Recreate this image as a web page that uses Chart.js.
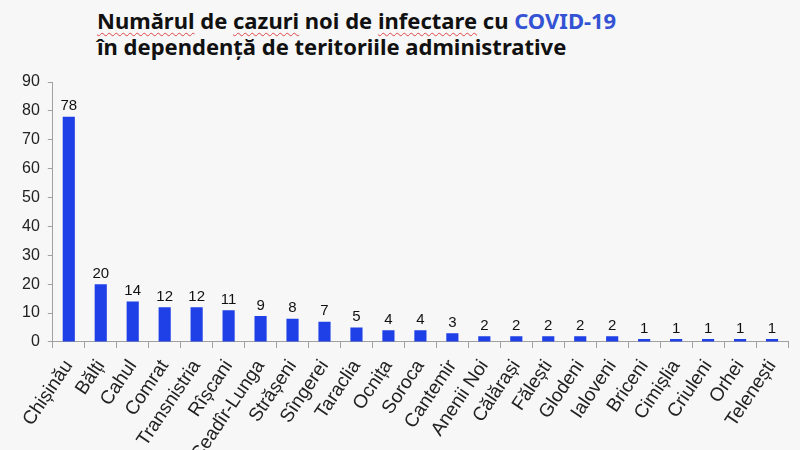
<!DOCTYPE html>
<html>
<head>
<meta charset="utf-8">
<script src="https://cdn.jsdelivr.net/npm/chart.js@4/dist/chart.umd.min.js"></script>
<style>
  html, body { margin: 0; padding: 0; background: #f7f7f7; overflow: hidden; width: 800px; height: 450px; }
  #title {
    position: absolute; left: 97px; top: 7px;
    font-family: "Noto Sans", "Open Sans", sans-serif; font-weight: bold;
    font-size: 22px; line-height: 26px; color: #111; white-space: nowrap;
  }
  #title .sp { text-decoration: underline wavy #d44; text-decoration-thickness: 1px; text-underline-offset: 3px; }
  #title .blue { color: #3452d4; }
  #wrap { position: absolute; left: 0; top: 0; width: 800px; height: 500px; }
</style>
</head>
<body>
<div id="title">
  <span class="sp">Numărul</span> de <span class="sp">cazuri</span> noi de <span class="sp">infectare</span> cu <span class="blue">COVID-19</span><br>
  în dependență de teritoriile administrative
</div>
<div id="wrap"><canvas id="chart" width="800" height="500"></canvas></div>
<script>
// Data
const territories = ["Chișinău", "Bălți", "Cahul", "Comrat", "Transnistria", "Rîșcani", "Ceadîr-Lunga",
  "Strășeni", "Sîngerei", "Taraclia", "Ocnița", "Soroca", "Cantemir", "Anenii Noi", "Călărași",
  "Fălești", "Glodeni", "Ialoveni", "Briceni", "Cimișlia", "Criuleni", "Orhei", "Telenești"];
const newCases = [78, 20, 14, 12, 12, 11, 9, 8, 7, 5, 4, 4, 3, 2, 2, 2, 2, 2, 1, 1, 1, 1, 1];
const yTicks = [0, 10, 20, 30, 40, 50, 60, 70, 80, 90];

const fontFam = '"Liberation Sans", Arial, sans-serif';
const axisColor = "#a0a0a0";

// draws the value above each bar
const valueLabels = {
  id: "valueLabels",
  afterDatasetsDraw(chart) {
    const ctx = chart.ctx;
    const meta = chart.getDatasetMeta(0);
    ctx.save();
    ctx.font = "15px " + fontFam;
    ctx.fillStyle = "#111";
    ctx.textAlign = "center";
    ctx.textBaseline = "bottom";
    meta.data.forEach((bar, i) => {
      ctx.fillText(newCases[i], bar.x, bar.y - 3);
    });
    ctx.restore();
  }
};

const ctx = document.getElementById("chart").getContext("2d");
new Chart(ctx, {
  type: "bar",
  data: {
    labels: territories,
    datasets: [{
      data: newCases,
      backgroundColor: "#1f40e6",
      categoryPercentage: 1,
      barPercentage: 0.38
    }]
  },
  options: {
    responsive: false,
    animation: false,
    layout: { padding: { top: 82, right: 12, bottom: 27, left: 14 } },
    plugins: { legend: { display: false }, tooltip: { enabled: false }, title: { display: false } },
    scales: {
      x: {
        grid: { drawOnChartArea: false, drawTicks: true, tickLength: 6, color: axisColor, offset: true },
        border: { color: axisColor },
        ticks: {
          autoSkip: false, minRotation: 56, maxRotation: 56, padding: 8,
          color: "#222", font: { family: fontFam, size: 19 }
        }
      },
      y: {
        min: 0, max: 90,
        afterBuildTicks(scale) { scale.ticks = yTicks.map(v => ({ value: v })); },
        grid: { drawOnChartArea: false, drawTicks: true, tickLength: 5, color: axisColor },
        border: { color: axisColor },
        ticks: { padding: 8, color: "#222", font: { family: fontFam, size: 16 } }
      }
    }
  },
  plugins: [valueLabels]
});
</script>
</body>
</html>
